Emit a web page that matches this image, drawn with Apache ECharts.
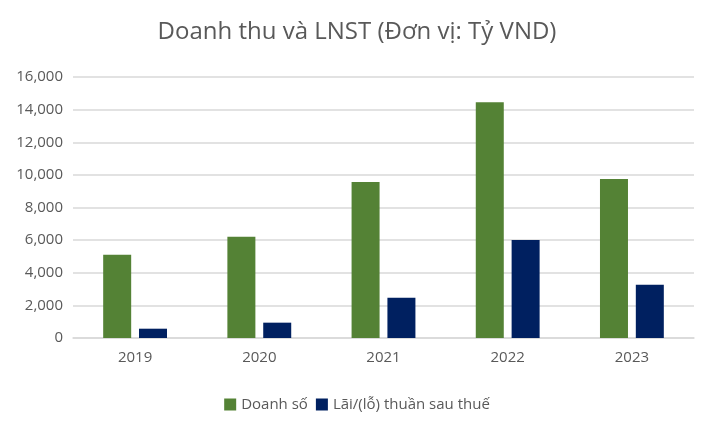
<!DOCTYPE html>
<html>
<head>
<meta charset="utf-8">
<script src="https://cdn.jsdelivr.net/npm/echarts@6/dist/echarts.min.js"></script>
<style>
  html, body { margin: 0; padding: 0; background: #fff; }
  #chart { width: 714px; height: 429px; }
</style>
</head>
<body>
<div id="chart"></div>
<script>
var years = ['2019', '2020', '2021', '2022', '2023'];
var doanhSo = [5100, 6200, 9560, 14450, 9740];
var laiLo = [570, 940, 2470, 6010, 3260];

var FONT = 'Open Sans';
var TEXT_COLOR = '#595959';

var myChart = echarts.init(document.getElementById('chart'));
var option = {
    animation: false,
    title: {
        text: 'Doanh thu và LNST (Đơn vị: Tỷ VND)',
        left: 'center',
        top: 15,
        textStyle: {
            fontFamily: FONT,
            fontSize: 24,
            fontWeight: 'normal',
            color: TEXT_COLOR
        }
    },
    legend: {
        bottom: 12,
        left: 'center',
        itemWidth: 12,
        itemHeight: 12,
        itemGap: 8,
        icon: 'rect',
        textStyle: {
            fontFamily: FONT,
            fontSize: 15,
            color: TEXT_COLOR
        },
        data: ['Doanh số', 'Lãi/(lỗ) thuần sau thuế']
    },
    grid: {
        left: 73,
        right: 20,
        top: 77,
        bottom: 91
    },
    xAxis: {
        type: 'category',
        data: years,
        axisTick: { show: false },
        axisLine: { lineStyle: { color: '#d9d9d9', width: 1.5 } },
        axisLabel: {
            fontFamily: FONT,
            fontSize: 15,
            color: TEXT_COLOR,
            margin: 12
        }
    },
    yAxis: {
        type: 'value',
        min: 0,
        max: 16000,
        interval: 2000,
        axisLine: { show: false },
        axisTick: { show: false },
        splitLine: { lineStyle: { color: '#d9d9d9', width: 1.5 } },
        axisLabel: {
            fontFamily: FONT,
            fontSize: 15,
            color: TEXT_COLOR,
            margin: 10,
            formatter: function (v) {
                return v.toLocaleString('en-US');
            }
        }
    },
    series: [
        {
            name: 'Doanh số',
            type: 'bar',
            data: doanhSo,
            barWidth: 28,
            barGap: '28%',
            itemStyle: { color: '#548235' }
        },
        {
            name: 'Lãi/(lỗ) thuần sau thuế',
            type: 'bar',
            data: laiLo,
            barWidth: 28,
            itemStyle: { color: '#002060' }
        }
    ]
};
myChart.setOption(option);
</script>
</body>
</html>
